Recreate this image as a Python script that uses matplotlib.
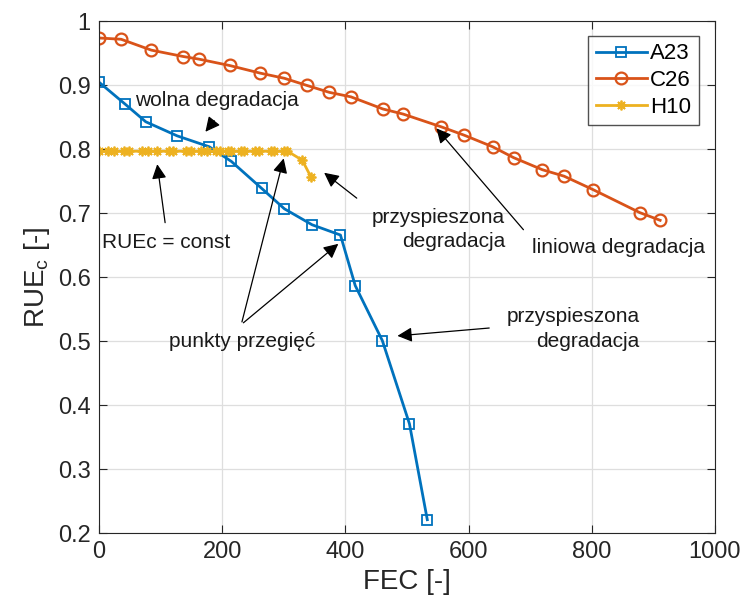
import matplotlib.pyplot as plt
import numpy as np

plt.rcParams['font.family'] = ['Liberation Sans', 'DejaVu Sans']

# A23
a23_fec = [0, 42, 76, 127, 179, 215, 264, 301, 346, 392, 416, 460, 504, 533]
a23_rue = [0.905, 0.871, 0.843, 0.821, 0.804, 0.781, 0.739, 0.707, 0.682, 0.666, 0.587, 0.501, 0.371, 0.221]

# C26
c26_fec = [0, 36, 85, 137, 162, 212, 262, 301, 337, 374, 409, 461, 494, 556, 593, 639, 673,
           720, 755, 802, 878, 911]
c26_rue = [0.974, 0.972, 0.955, 0.945, 0.941, 0.931, 0.919, 0.911, 0.900, 0.889, 0.882, 0.863,
           0.855, 0.835, 0.822, 0.804, 0.787, 0.768, 0.758, 0.737, 0.701, 0.689]

# H10
h10_fec = [0, 15, 24, 40, 49, 70, 79, 95, 113, 120, 141, 149, 165, 176, 190, 197,
           209, 214, 230, 236, 254, 260, 279, 284, 300, 306, 330, 344]
h10_rue = [0.797] * 26 + [0.783, 0.757]

fig = plt.figure(figsize=(7.44, 6.10), dpi=100)
ax = fig.add_axes([0.133, 0.126, 0.828, 0.839])

ax.plot(a23_fec, a23_rue, '-s', color='#0072BD', lw=2, ms=6.5, mfc='none', mew=1.3, label='A23')
ax.plot(c26_fec, c26_rue, '-o', color='#D95319', lw=2, ms=8.5, mfc='none', mew=1.6, label='C26')
ax.plot(h10_fec, h10_rue, '-', marker=(8, 2, 0), color='#EDB120', lw=2, ms=7, mew=1.3, label='H10')

ax.set_xlim(0, 1000)
ax.set_ylim(0.2, 1.0)
ax.set_xticks(np.arange(0, 1001, 200))
ax.set_yticks(np.arange(0.2, 1.01, 0.1))
ax.set_yticklabels(['0.2', '0.3', '0.4', '0.5', '0.6', '0.7', '0.8', '0.9', '1'])
ax.grid(True, color='#dedede', lw=0.9)
ax.set_axisbelow(True)
ax.tick_params(direction='in', top=True, right=True, labelsize=17, colors='#262626',
               length=6, pad=6)
for s in ax.spines.values():
    s.set_color('#262626')
ax.set_xlabel('FEC [-]', fontsize=20, color='#262626')
ax.set_ylabel('$\\mathregular{RUE_c}$ [-]', fontsize=20, color='#262626')

leg = ax.legend(loc='upper right', fontsize=16, fancybox=False, edgecolor='#262626',
                handlelength=2.3, borderpad=0.35, labelspacing=0.25, handletextpad=0.15,
                borderaxespad=0, bbox_to_anchor=(0.974, 0.972))
leg.get_frame().set_linewidth(1.0)

arr = dict(arrowstyle='-|>', color='black', lw=0.9, mutation_scale=22)
tk = dict(fontsize=15, color='#1a1a1a')

ax.text(59, 0.877, 'wolna degradacja', va='center', **tk)
ax.annotate('', xy=(170, 0.824), xytext=(190, 0.848), arrowprops=arr)

ax.text(5, 0.654, 'RUEc = const', va='center', **tk)
ax.annotate('', xy=(94, 0.781), xytext=(108, 0.681), arrowprops=arr)

ax.text(113, 0.499, 'punkty przegięć', va='center', **tk)
ax.annotate('', xy=(301, 0.790), xytext=(231, 0.526), arrowprops=arr)
ax.annotate('', xy=(392, 0.655), xytext=(231, 0.526), arrowprops=arr)

ax.text(659, 0.675, 'przyspieszona\ndegradacja', ha='right', va='center',
        multialignment='right', linespacing=1.35, **tk)
ax.annotate('', xy=(362, 0.766), xytext=(422, 0.721), arrowprops=arr)

ax.text(703, 0.646, 'liniowa degradacja', va='center', **tk)
ax.annotate('', xy=(545, 0.836), xytext=(692, 0.671), arrowprops=arr)

ax.text(878, 0.519, 'przyspieszona\ndegradacja', ha='right', va='center',
        multialignment='right', linespacing=1.35, **tk)
ax.annotate('', xy=(480, 0.508), xytext=(638, 0.521), arrowprops=arr)

fig.savefig('out.png', dpi=100)
